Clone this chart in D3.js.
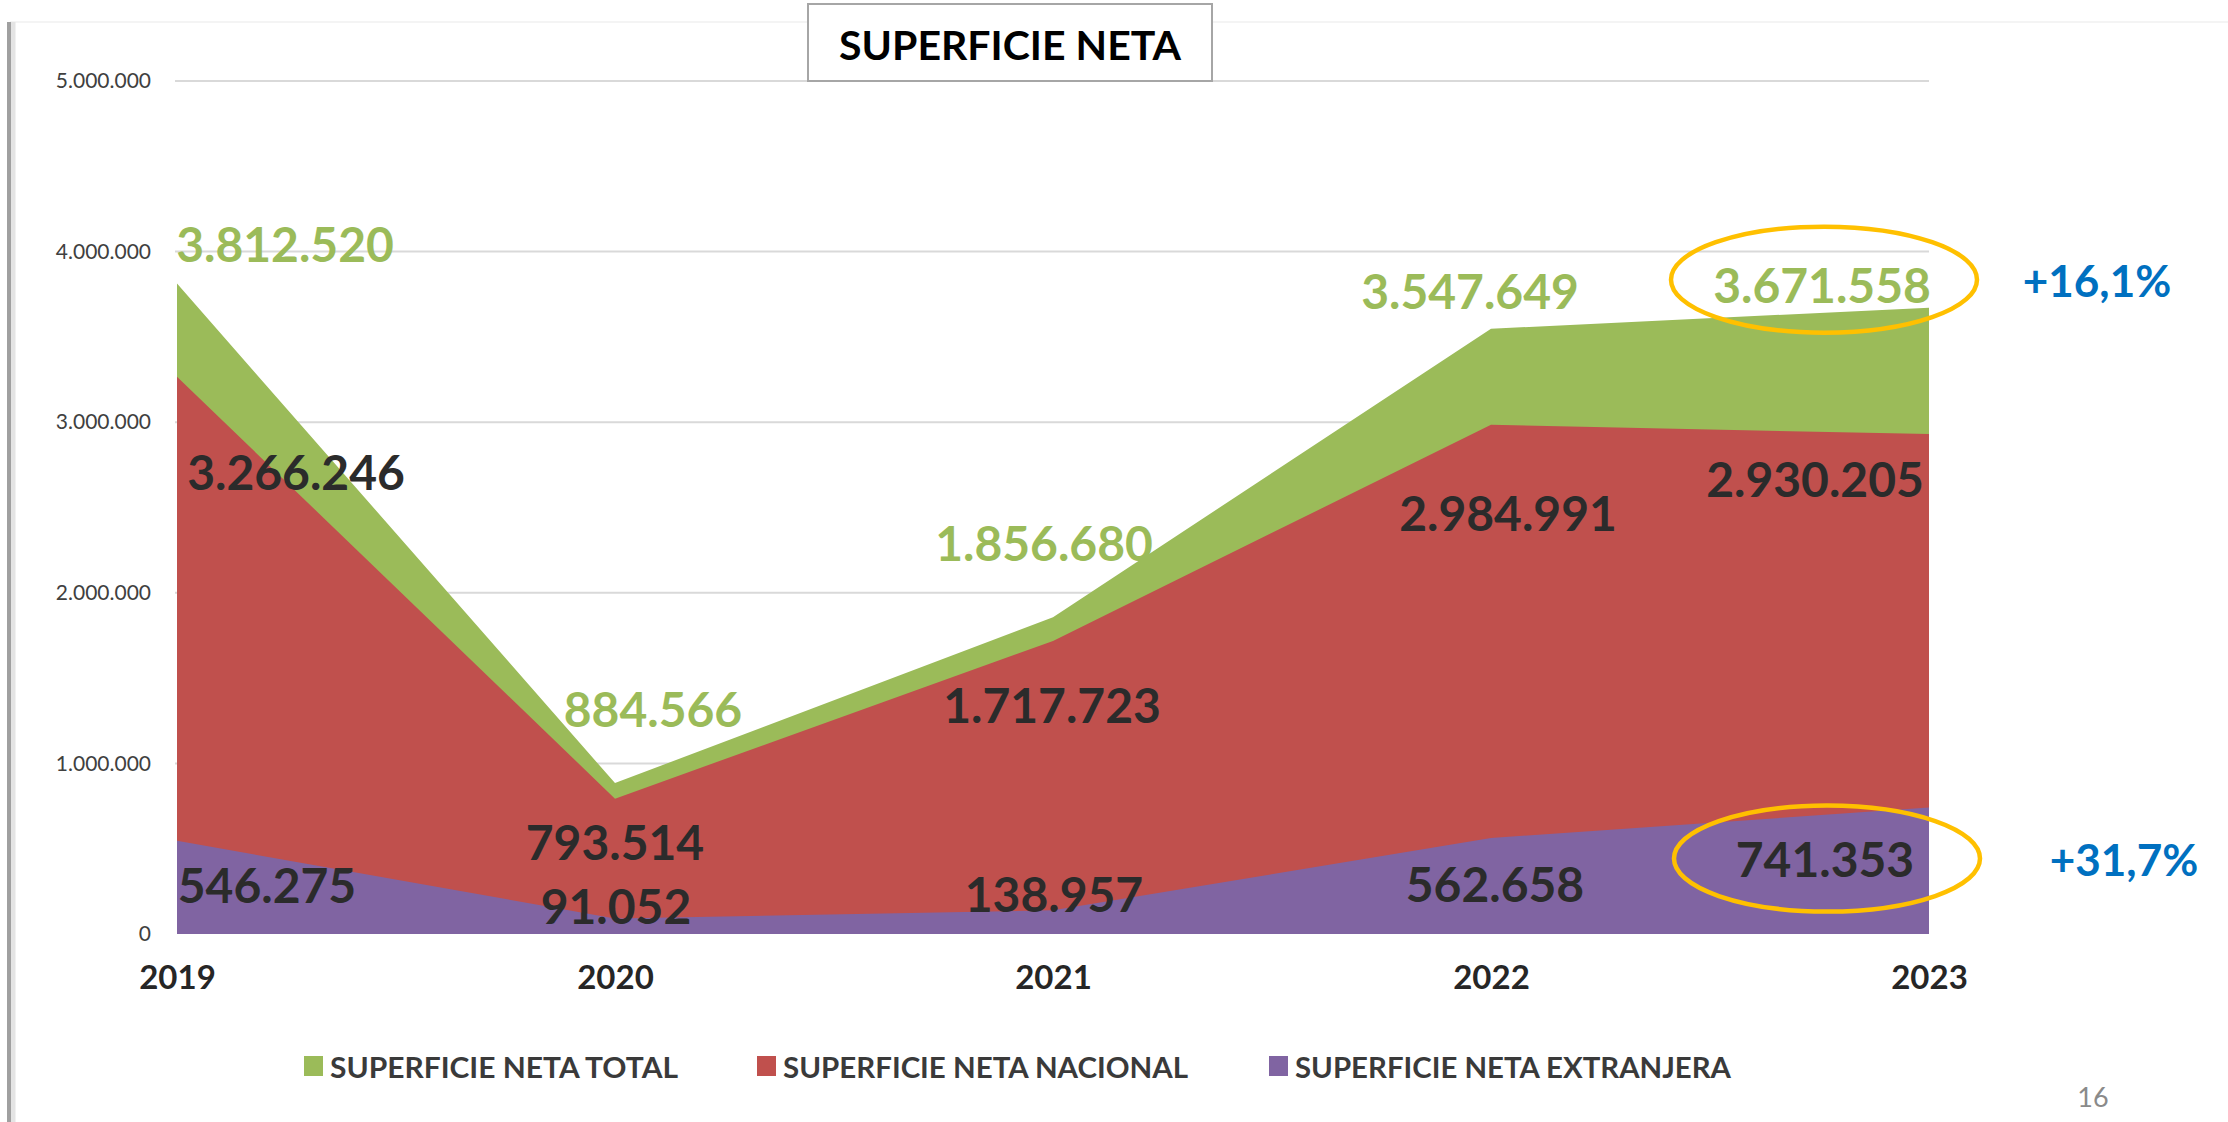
<!DOCTYPE html>
<html>
<head>
<meta charset="utf-8">
<script src="https://cdn.jsdelivr.net/npm/d3@7"></script>
<style>
    body { margin: 0; background: #fff; }
    svg { display: block; font-family: Lato, "Open Sans", sans-serif; }
</style>
</head>
<body>
<svg id="chart" width="2228" height="1122"></svg>
<script>
'use strict';
const years = ['2019', '2020', '2021', '2022', '2023'];
const total = [3812520, 884566, 1856680, 3547649, 3671558];
const nacional = [3266246, 793514, 1717723, 2984991, 2930205];
const extranjera = [546275, 91052, 138957, 562658, 741353];
const yTicks = [0, 1000000, 2000000, 3000000, 4000000, 5000000];
const seriesNames = ['SUPERFICIE NETA TOTAL', 'SUPERFICIE NETA NACIONAL', 'SUPERFICIE NETA EXTRANJERA'];
const changes = ['+16,1%', '+31,7%'];

// label offsets from each data point (px)
const labelShift = {
    total: [[108, -40], [38, -75], [-9, -75], [-21, -38], [-107, -23]],
    nacional: [[119, 95], [0, 43], [-1, 64], [17, 88], [-114, 44]],
    extranjera: [[90, 44], [1, -13], [1, -17], [4, 45], [-104, 51]]
};

let fmt = d3.formatLocale({decimal: ',', thousands: '.', grouping: [3], currency: ['', '']}).format(',d');
let colors = {total: '#9BBB59', nacional: '#C0504D', extranjera: '#8064A2'};

let svg = d3.select('#chart'),
    margin = {top: 81, right: 299, bottom: 188, left: 177},
    width = +svg.attr('width'),
    height = +svg.attr('height');

// frame of the slide image
svg.append('line')
    .attr('x1', 10).attr('x2', width).attr('y1', 22).attr('y2', 22)
    .attr('stroke', '#f4f4f4').attr('stroke-width', 2);
svg.append('line')
    .attr('x1', 13).attr('x2', 13).attr('y1', 22).attr('y2', height)
    .attr('stroke', '#e4e4e4').attr('stroke-width', 5);
svg.append('line')
    .attr('x1', 9).attr('x2', 9).attr('y1', 22).attr('y2', height)
    .attr('stroke', '#a0a0a0').attr('stroke-width', 4);

let x = d3.scalePoint()
    .domain(years)
    .range([margin.left, width - margin.right]);

let y = d3.scaleLinear()
    .domain([0, 5000000])
    .range([height - margin.bottom, margin.top]);

// gridlines
svg.append('g')
    .selectAll('line')
    .data(yTicks.filter(d => d > 0))
    .enter().append('line')
    .attr('x1', margin.left - 2)
    .attr('x2', width - margin.right)
    .attr('y1', d => y(d))
    .attr('y2', d => y(d))
    .attr('stroke', '#d9d9d9')
    .attr('stroke-width', 2);

// y axis labels
let yAxis = svg.append('g')
    .attr('transform', 'translate(' + (margin.left - 26) + ',0)')
    .call(d3.axisLeft(y).tickValues(yTicks).tickFormat(fmt).tickSize(0).tickPadding(0));
yAxis.select('.domain').remove();
yAxis.selectAll('text')
    .attr('font-family', 'Lato, sans-serif')
    .attr('font-size', 21)
    .attr('fill', '#404040');

let area = d3.area()
    .x((d, i) => x(years[i]))
    .y0(y(0))
    .y1(d => y(d));

let series = [
    {key: 'total', values: total},
    {key: 'nacional', values: nacional},
    {key: 'extranjera', values: extranjera}
];

svg.append('g')
    .selectAll('path')
    .data(series)
    .enter().append('path')
    .attr('fill', d => colors[d.key])
    .attr('d', d => area(d.values));

// x axis labels
let xAxis = svg.append('g')
    .attr('transform', 'translate(0,' + y(0) + ')')
    .call(d3.axisBottom(x).tickSize(0).tickPadding(32));
xAxis.select('.domain').remove();
xAxis.selectAll('text')
    .attr('font-family', 'Lato, sans-serif')
    .attr('font-weight', 'bold')
    .attr('font-size', 33)
    .attr('fill', '#262626');

// data labels
let labelColor = {total: '#9BBB59', nacional: '#2b2b2b', extranjera: '#2b2b2b'};
for (let s of series) {
    svg.append('g')
        .selectAll('text')
        .data(s.values)
        .enter().append('text')
        .attr('x', (d, i) => x(years[i]) + labelShift[s.key][i][0])
        .attr('y', (d, i) => y(d) + labelShift[s.key][i][1])
        .attr('text-anchor', 'middle')
        .attr('dominant-baseline', 'central')
        .attr('font-weight', 'bold')
        .attr('font-size', 48)
        .attr('fill', labelColor[s.key])
        .text(d => fmt(d));
}

// highlight ellipses around last values + change
let last = years.length - 1;
let highlights = [
    {key: 'total', value: total[last], change: changes[0], dy: -5, px: 275},
    {key: 'extranjera', value: extranjera[last], change: changes[1], dy: 0, px: 299}
];
for (let h of highlights) {
    let cx = x(years[last]) + labelShift[h.key][last][0];
    let cy = y(h.value) + labelShift[h.key][last][1] + h.dy;
    svg.append('ellipse')
        .attr('cx', cx + 2)
        .attr('cy', cy)
        .attr('rx', 153)
        .attr('ry', 53)
        .attr('fill', 'none')
        .attr('stroke', '#FFC000')
        .attr('stroke-width', 4.5);
    svg.append('text')
        .attr('x', cx + h.px)
        .attr('y', cy)
        .attr('text-anchor', 'middle')
        .attr('dominant-baseline', 'central')
        .attr('font-weight', 'bold')
        .attr('font-size', 44)
        .attr('fill', '#0070C0')
        .text(h.change);
}

// title box
let title = svg.append('g');
title.append('rect')
    .attr('x', 808).attr('y', 4)
    .attr('width', 404).attr('height', 77)
    .attr('fill', '#fff')
    .attr('stroke', '#a6a6a6')
    .attr('stroke-width', 2);
title.append('text')
    .attr('x', 1010).attr('y', 44)
    .attr('text-anchor', 'middle')
    .attr('dominant-baseline', 'central')
    .attr('font-weight', 'bold')
    .attr('font-size', 41)
    .attr('fill', '#000')
    .text('SUPERFICIE NETA');

// legend
let legendX = [304, 757, 1269];
let legendLen = [348, 405, 436];
let legend = svg.append('g')
    .selectAll('g')
    .data(series)
    .enter().append('g')
    .attr('transform', (d, i) => 'translate(' + legendX[i] + ',1066)');
legend.append('rect')
    .attr('x', 0).attr('y', -10)
    .attr('width', 19).attr('height', 20)
    .attr('fill', d => colors[d.key]);
legend.append('text')
    .attr('x', 26)
    .attr('y', 0)
    .attr('dominant-baseline', 'central')
    .attr('font-weight', 'bold')
    .attr('font-size', 29)
    .attr('textLength', (d, i) => legendLen[i])
    .attr('lengthAdjust', 'spacingAndGlyphs')
    .attr('fill', '#3a3a3a')
    .text((d, i) => seriesNames[i]);

// page number
svg.append('text')
    .attr('x', 2093).attr('y', 1096)
    .attr('text-anchor', 'middle')
    .attr('dominant-baseline', 'central')
    .attr('font-size', 27)
    .attr('fill', '#8a8a8a')
    .text('16');
</script>
</body>
</html>
